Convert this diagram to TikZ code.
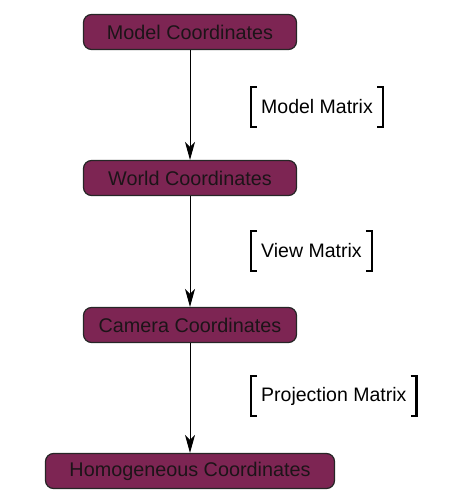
\documentclass[tikz,border=0pt]{standalone}
\usepackage{fontspec}
\setmainfont{Liberation Sans}
\usetikzlibrary{positioning, arrows.meta}

\definecolor{boxfill}{RGB}{125,37,83}
\definecolor{boxtext}{RGB}{28,20,24}

\begin{document}
\begin{tikzpicture}[
    x=1pt, y=1pt,
    coordbox/.style={draw=black!85, line width=1.2pt, rounded corners=8pt, fill=boxfill,
        text=boxtext, minimum width=213pt, minimum height=35pt, inner xsep=12pt,
        font=\fontsize{19.8}{23}\selectfont},
    matlabel/.style={inner xsep=10pt, minimum height=40pt, anchor=west,
        font=\fontsize{19.5}{23}\selectfont},
    bracket/.style={line width=2.5pt},
    stage/.style={draw, line width=0.9pt, -{Stealth[length=18pt,width=10pt,inset=5pt]}}
]
\useasboundingbox (0,0) rectangle (456,-502);

% ============================================================
% COORDINATE SPACES (column at x=190)
% ============================================================
\node[coordbox] (model)  at (190,-32)  {Model Coordinates};
\node[coordbox] (world)  at (190,-178) {World Coordinates};
\node[coordbox] (camera) at (190,-325) {Camera Coordinates};
\node[coordbox, minimum width=289pt] (homog) at (190,-471) {Homogeneous Coordinates};

% ============================================================
% TRANSFORMS
% ============================================================
\draw[stage] (model.south) -- (world.north);
\draw[stage] (world.south) -- (camera.north);
\draw[stage] (camera.south) -- (homog.north);

% ============================================================
% MATRIX LABELS (bracketed)
% ============================================================
\node[matlabel] (modelmat) at (251,-107) {Model Matrix};
\node[matlabel] (viewmat)  at (251,-251) {View Matrix};
\node[matlabel] (projmat)  at (251,-396) {Projection Matrix};

\foreach \m in {modelmat, viewmat, projmat} {
    \draw[bracket] ([xshift=6pt]\m.north west) -- (\m.north west)
        -- (\m.south west) -- ([xshift=6pt]\m.south west);
    \draw[bracket] ([xshift=-6pt]\m.north east) -- (\m.north east)
        -- (\m.south east) -- ([xshift=-6pt]\m.south east);
}

\end{tikzpicture}
\end{document}
